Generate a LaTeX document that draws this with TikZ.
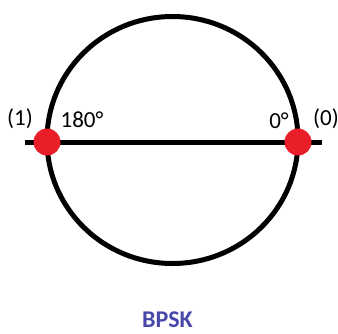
\documentclass[tikz,border=0pt]{standalone}
\usepackage{fontspec}
\setmainfont{Carlito}
\definecolor{dotred}{RGB}{232,30,40}
\definecolor{titleblue}{RGB}{72,72,170}
\begin{document}
\begin{tikzpicture}[x=1pt,y=-1pt,
  ring/.style={line width=5pt,draw=black},
  axis/.style={line width=5pt,draw=black},
  dot/.style={circle,fill=dotred,minimum size=27pt,inner sep=0pt},
  lbl/.style={font=\fontsize{23}{23}\selectfont,inner sep=0pt},
  title/.style={font=\fontsize{24}{24}\selectfont\bfseries,text=titleblue,inner sep=0pt}]
\useasboundingbox (0,0) rectangle (338,333);
\draw[ring] (172.5,140) ellipse [x radius=125.5, y radius=123.5];
\coordinate (lend) at (25,142);
\coordinate (rend) at (322,142);
\coordinate (p1) at (47,142);
\coordinate (p0) at (298,142);
\draw[axis] (lend) -- (p1) -- (p0) -- (rend);
\node[dot] (d1) at (p1) {};
\node[dot] (d0) at (p0) {};
\node[lbl] (l1) at (20,119) {(1)};
\node[lbl] (l180) at (82,120) {180°};
\node[lbl] (l0) at (279,121) {0°};
\node[lbl] (l0b) at (326,119) {(0)};
\node[title] (t) at (167.5,320) {BPSK};
\end{tikzpicture}
\end{document}
